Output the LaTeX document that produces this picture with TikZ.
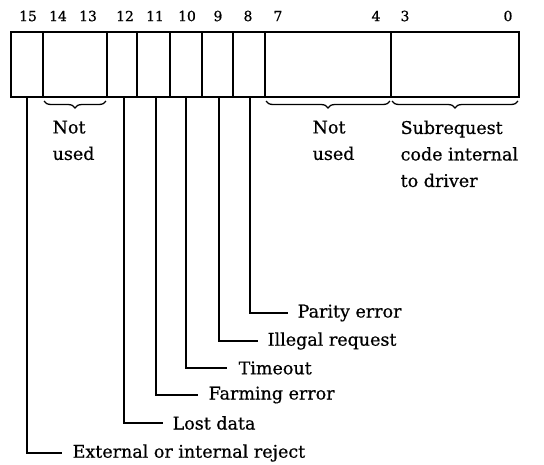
\documentclass[tikz,border=0pt]{standalone}
\usepackage{fontspec}
\setmainfont{DejaVu Serif}[FakeBold=0.6]
\usetikzlibrary{decorations.pathreplacing}
\begin{document}
\begin{tikzpicture}[x=1pt,y=-1pt,line width=1.3pt,
  bitnum/.style={font=\fontsize{14}{16}\selectfont,inner sep=0pt},
  lbl/.style={font=\fontsize{17.5}{26.5}\selectfont,inner sep=0pt,anchor=west,align=left},
  brc/.style={decorate,decoration={brace,mirror,amplitude=7pt},line width=1.3pt}]
\useasboundingbox (0,0) rectangle (544,464);
% register box
\draw (11,32) rectangle (519,97);
\foreach \x in {43,107,137,170,202,233,265,391}
  \draw (\x,32) -- (\x,97);
% bit numbers
\foreach \x/\t in {28/15,58/14,88/13,125/12,155/11,187/10,218/9,248/8,278/7,376/4,405/3,508/0}
  \node[bitnum] at (\x,16) {\t};
% braces
\draw[brc] (44,101) -- (106,101);
\draw[brc] (266,101) -- (390,101);
\draw[brc] (392,101) -- (518,101);
\node[lbl,anchor=north west,align=left] (nu1) at (52,120) {Not\\used};
\node[lbl,anchor=north west,align=left] (nu2) at (312,120) {Not\\used};
\node[lbl,anchor=north west,align=left] (sub) at (400,120) {Subrequest\\code internal\\to driver};
% bit coordinates
\coordinate (b15) at (27,97);
\coordinate (b12) at (124,97);
\coordinate (b11) at (156,97);
\coordinate (b10) at (186,97);
\coordinate (b9) at (219,97);
\coordinate (b8) at (250,97);
% labels
\node[lbl] (l8) at (297,313) {Parity error};
\node[lbl] (l9) at (267,341) {Illegal request};
\node[lbl] (l10) at (238,368) {Timeout};
\node[lbl] (l11) at (208,395) {Farming error};
\node[lbl] (l12) at (172,423) {Lost data};
\node[lbl] (l15) at (72,453) {External or internal reject};
% leaders
\draw (b8) |- ([xshift=-9pt]l8.west);
\draw (b9) |- ([xshift=-9pt]l9.west);
\draw (b10) |- ([xshift=-11pt]l10.west);
\draw (b11) |- ([xshift=-10pt]l11.west);
\draw (b12) |- ([xshift=-9pt]l12.west);
\draw (b15) |- ([xshift=-10pt]l15.west);
\end{tikzpicture}
\end{document}
